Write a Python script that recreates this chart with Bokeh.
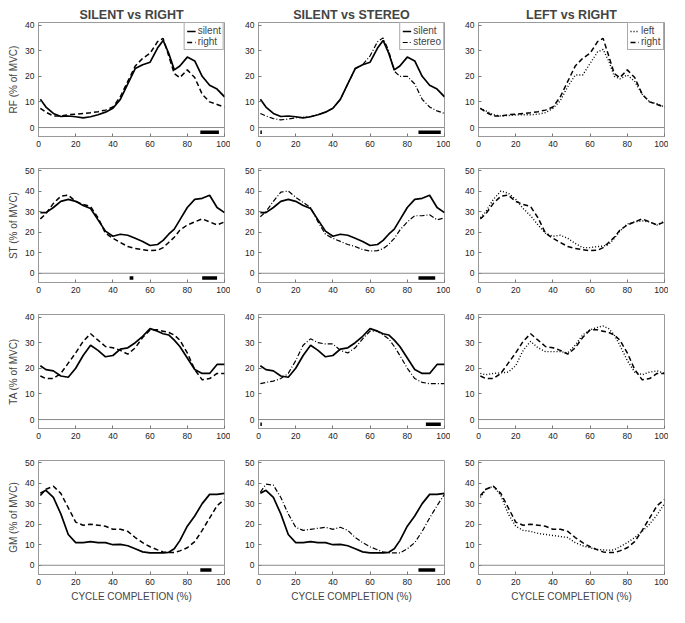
from bokeh.plotting import figure
from bokeh.layouts import column, row
from bokeh.models import Span, Legend, LegendItem, FixedTicker, Range1d
from bokeh.embed import file_html
from bokeh.resources import INLINE

# ---------------- data ----------------
X = [1, 4, 8, 12, 16, 20, 24, 28, 32, 36, 40, 44, 48, 52, 56, 60, 64, 67, 70, 73, 76, 80, 84, 88, 92, 96, 100]

rf_silent = [11, 8, 5.5, 4.3, 4.5, 4.2, 3.8, 4.2, 5, 6, 7.5, 11, 17, 23, 24.5, 25.5, 31, 34, 29, 22.5, 24, 27.5, 26, 20, 16.5, 15, 12]
rf_right = [7.5, 6, 4.5, 4.5, 5, 5.2, 5.5, 5.8, 6.2, 6.8, 8, 12, 18, 24, 27, 29, 33.5, 34.8, 28, 21, 19.5, 22.5, 19.5, 13, 10, 9, 8]
rf_stereo = [5.5, 4.5, 3.5, 3, 3.3, 3.8, 4, 4.3, 5, 6, 7.5, 11, 17, 23, 24.5, 28, 33.5, 35, 30, 22, 20, 20, 17, 11, 8, 6.5, 5.5]
rf_left = [7.5, 6.5, 5, 4.5, 4.7, 4.9, 5, 5, 5.2, 5.8, 7.5, 10.5, 16, 20.5, 20.5, 25, 29.5, 30.5, 26, 20, 19, 20.5, 18, 13, 10, 9.3, 8]

st_silent = [29.5, 29.5, 32, 35, 36, 35, 33, 31.5, 26, 20.5, 18, 19, 18.5, 17, 15.5, 13.5, 14, 16, 19, 21.5, 26, 32, 36, 36.5, 38, 32, 29.5]
st_right = [26.5, 29, 34, 37.5, 38, 35, 33.5, 32.5, 27, 19.5, 17, 15, 13, 12, 11.5, 11, 11.2, 12.5, 15, 17.5, 21, 23.5, 25, 26.5, 25, 23.5, 25]
st_stereo = [27.5, 30, 35, 39.5, 40, 37, 34.5, 32, 25, 19, 17, 15.5, 14, 13, 11.5, 10.8, 11, 12, 14, 17, 21, 25, 28, 28, 28.5, 26, 27]
st_left = [27, 30, 36, 40, 39, 36, 31.5, 28, 23.5, 19.5, 18, 18.5, 17, 14.5, 12.5, 12.5, 13, 13.2, 14, 17, 20.5, 24, 25, 25.5, 25, 23.5, 25.5]

ta_silent = [21, 19.5, 19, 17, 16.5, 20, 25, 29, 27, 24.5, 25, 27.5, 28, 30, 32.5, 35.5, 34.5, 33.5, 33, 31, 28.5, 24, 19.5, 18, 18, 21.5, 21.5]
ta_right = [17, 16, 16, 18, 22, 26, 30.5, 33.5, 31, 28.5, 28, 27, 25.5, 28, 32, 35, 35, 34.5, 34, 33, 31, 26, 19.5, 15.5, 16, 18, 18]
ta_stereo = [14, 14.5, 15, 16, 18, 23, 29, 31.5, 30, 29.5, 29.5, 27, 26, 28, 31.5, 34.5, 34.5, 33, 31.5, 28.5, 25, 20, 16, 14.5, 14, 14, 14]
ta_left = [18, 17.5, 18, 18.2, 18.5, 21, 27, 30.5, 28, 26.5, 26.5, 26.5, 26, 29, 33, 35, 36, 36.5, 35.5, 33, 29, 23, 18.5, 17.5, 18.5, 19, 18]

gm_silent = [35, 36.5, 33, 25, 15, 11, 11, 11.5, 11, 11, 10, 10.2, 9.5, 8, 6.5, 6, 6, 6, 6.3, 8, 12, 19, 24, 30, 34.5, 34.5, 35]
gm_right = [34, 37, 38.5, 35, 28, 21, 19.5, 20, 19.5, 19, 17.5, 17.5, 16.5, 13.5, 11, 9, 7.5, 6.5, 6.2, 6.2, 7, 8.5, 11.5, 17, 23, 29, 32]
gm_stereo = [35.5, 39.5, 39, 33, 25, 18.5, 17, 17.5, 18, 18.5, 17.5, 18.5, 17, 13.5, 11, 9, 7.5, 6.5, 6, 6, 6, 8, 11, 16.5, 23, 29, 34.5]
gm_left = [33, 37, 38.5, 34, 25, 19, 17, 16.5, 15.5, 15, 14.5, 14, 13.5, 11, 9.5, 8.5, 7.7, 7.5, 7.3, 7.5, 9, 11, 13.5, 16.5, 20, 24.5, 30]

titles = ["SILENT vs RIGHT", "SILENT vs STEREO", "LEFT vs RIGHT"]
muscles = ["RF", "ST", "TA", "GM"]
x_ticks = [0, 20, 40, 60, 80, 100]
y_ticks_40 = [0, 10, 20, 30, 40]
y_ticks_50 = [0, 10, 20, 30, 40, 50]

series = {
    "RF": {"silent": rf_silent, "right": rf_right, "stereo": rf_stereo, "left": rf_left},
    "ST": {"silent": st_silent, "right": st_right, "stereo": st_stereo, "left": st_left},
    "TA": {"silent": ta_silent, "right": ta_right, "stereo": ta_stereo, "left": ta_left},
    "GM": {"silent": gm_silent, "right": gm_right, "stereo": gm_stereo, "left": gm_left},
}

pairs = [("silent", "right"), ("silent", "stereo"), ("left", "right")]

# significance bars (start, end) in % of cycle
sig = {
    "RF": [[(87, 97)], [(1, 1.8), (86, 98)], []],
    "ST": [[(49, 51), (88, 96)], [(86, 95)], []],
    "TA": [[], [(1, 1.8), (90, 98)], []],
    "GM": [[(87, 93)], [(86, 95)], []],
}

# ---------------- styles ----------------
FONT = "Liberation Sans"
styles = {
    "silent": dict(line_color="black", line_width=1.7, line_dash="solid"),
    "right": dict(line_color="black", line_width=1.5, line_dash="5 3"),
    "stereo": dict(line_color="black", line_width=1.2, line_dash="5 2 1 2"),
    "left": dict(line_color="black", line_width=1.4, line_dash="1 2"),
}
row_cfg = {
    "RF": dict(yr=(-3.5, 41), ticks=y_ticks_40, bar_y=-1.8),
    "ST": dict(yr=(-4.5, 51), ticks=y_ticks_50, bar_y=-2.3),
    "TA": dict(yr=(-3.5, 41), ticks=y_ticks_40, bar_y=-1.8),
    "GM": dict(yr=(-4.5, 51), ticks=y_ticks_50, bar_y=-2.3),
}

col_w = [230, 220, 218]
col_left = [38, 28, 28]
col_right = [6, 6, 4]

rows = []
for ri, m in enumerate(muscles):
    cfg = row_cfg[m]
    first = ri == 0
    last = ri == len(muscles) - 1
    top = 22 if first else 16
    bottom = 30 if last else 16
    h = top + 114 + bottom
    figs = []
    for ci in range(3):
        p = figure(width=col_w[ci], height=h, output_backend="svg", toolbar_location=None,
                   x_range=Range1d(0, 100), y_range=Range1d(*cfg["yr"]),
                   min_border_left=col_left[ci], min_border_right=col_right[ci],
                   min_border_top=top, min_border_bottom=bottom,
                   title=titles[ci] if first else None)
        if first:
            p.title.text_font = FONT
            p.title.text_font_size = "12.5px"
            p.title.text_font_style = "bold"
            p.title.align = "center"
            p.title.standoff = 2
        p.grid.visible = False
        p.outline_line_color = "#9a9a9a"
        p.outline_line_width = 1
        p.background_fill_color = "white"
        p.border_fill_color = "white"
        for ax in (p.xaxis[0], p.yaxis[0]):
            ax.axis_line_color = "#9a9a9a"
            ax.major_tick_in = 3
            ax.major_tick_out = 0
            ax.major_tick_line_color = "#777777"
            ax.minor_tick_line_color = None
            ax.major_label_text_font = FONT
            ax.major_label_text_font_size = "8.5px"
            ax.major_label_text_color = "#222222"
            ax.major_label_standoff = 4
        p.xaxis.ticker = FixedTicker(ticks=x_ticks)
        p.yaxis.ticker = FixedTicker(ticks=cfg["ticks"])
        if ci == 0:
            p.yaxis.axis_label = m + " (% of MVC)"
            p.yaxis.axis_label_text_font = FONT
            p.yaxis.axis_label_text_font_size = "10px"
            p.yaxis.axis_label_text_font_style = "normal"
            p.yaxis.axis_label_standoff = 3
        if last:
            p.xaxis.axis_label = "CYCLE COMPLETION (%)"
            p.xaxis.axis_label_text_font = FONT
            p.xaxis.axis_label_text_font_size = "10px"
            p.xaxis.axis_label_text_font_style = "normal"
            p.xaxis.axis_label_standoff = 3

        p.add_layout(Span(location=0, dimension="width", line_color="#8a8a8a", line_width=1))

        items = []
        for name in pairs[ci]:
            r = p.line(X, series[m][name], **styles[name])
            items.append(LegendItem(label=name, renderers=[r]))

        bars = sig[m][ci]
        if bars:
            p.segment(x0=[b[0] for b in bars], x1=[b[1] for b in bars],
                      y0=[cfg["bar_y"]] * len(bars), y1=[cfg["bar_y"]] * len(bars),
                      line_color="black", line_width=3.5)

        if first:
            leg = Legend(items=items, location="top_right", margin=0, padding=2, spacing=0,
                         glyph_width=9, glyph_height=10, label_standoff=2,
                         label_text_font=FONT, label_text_font_size="10px",
                         label_height=10, border_line_color="#555555", border_line_width=1,
                         background_fill_alpha=1)
            p.add_layout(leg)
        figs.append(p)
    rows.append(row(*figs))

layout = column(*rows)
open("out.html", "w").write(file_html(layout, INLINE))
